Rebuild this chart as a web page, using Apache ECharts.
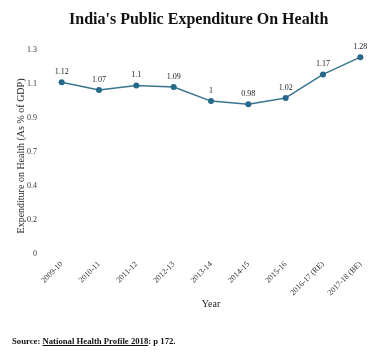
<!DOCTYPE html>
<html>
<head>
<meta charset="utf-8">
<script src="https://cdn.jsdelivr.net/npm/echarts@6/dist/echarts.min.js"></script>
<style>
html,body{margin:0;padding:0;background:#fff;}
#chart{width:386px;height:362px;}
#src{position:absolute;left:12px;top:336px;font:bold 8.7px "Liberation Serif",serif;color:#111;}
#src u{text-decoration:underline;}
</style>
</head>
<body>
<div id="chart"></div>
<div id="src">Source: <u>National Health Profile 2018</u>: p 172.</div>
<script>
const categories = ['2009-10','2010-11','2011-12','2012-13','2013-14','2014-15','2015-16','2016-17 (RE)','2017-18 (BE)'];
const values = [1.12, 1.07, 1.1, 1.09, 1, 0.98, 1.02, 1.17, 1.28];
const yTickLabels = ['0','0.2','0.4','0.7','0.9','1.1','1.3'];
const yMax = 1.3;

const font = '"Liberation Serif", serif';
const chart = echarts.init(document.getElementById('chart'));
chart.setOption({
  animation: false,
  backgroundColor: '#fff',
  title: {
    text: "India's Public Expenditure On Health",
    left: 64, top: 7,
    textStyle: {fontFamily: font, fontWeight: 'bold', fontSize: 16, color: '#111'}
  },
  grid: {left: 43, right: 7, top: 54, bottom: 104},
  xAxis: {
    type: 'category',
    data: categories,
    boundaryGap: true,
    name: 'Year',
    nameLocation: 'middle',
    nameGap: 41,
    nameMoveOverlap: false,
    nameTextStyle: {fontFamily: font, fontSize: 10, color: '#222'},
    axisLine: {show: false},
    axisTick: {show: false},
    axisLabel: {rotate: 45, interval: 0, margin: 5, fontFamily: font, fontSize: 8, color: '#333'}
  },
  yAxis: {
    type: 'value',
    min: 0, max: yMax, interval: yMax / 6,
    name: 'Expenditure on Health (As % of GDP)',
    nameLocation: 'middle',
    nameGap: 17,
    nameMoveOverlap: false,
    nameTextStyle: {fontFamily: font, fontSize: 10, color: '#222'},
    axisLine: {show: false},
    axisTick: {show: false},
    splitLine: {show: false},
    axisLabel: {
      margin: 6, fontFamily: font, fontSize: 8, color: '#333', verticalAlign: 'bottom',
      formatter: (v, i) => yTickLabels[i]
    }
  },
  series: [{
    type: 'line',
    data: values,
    symbol: 'circle',
    symbolSize: 6,
    lineStyle: {color: '#3a7590', width: 1.5},
    itemStyle: {color: '#26698a'},
    label: {show: true, position: 'top', distance: 3, fontFamily: font, fontSize: 8, color: '#222'}
  }]
});
</script>
</body>
</html>
